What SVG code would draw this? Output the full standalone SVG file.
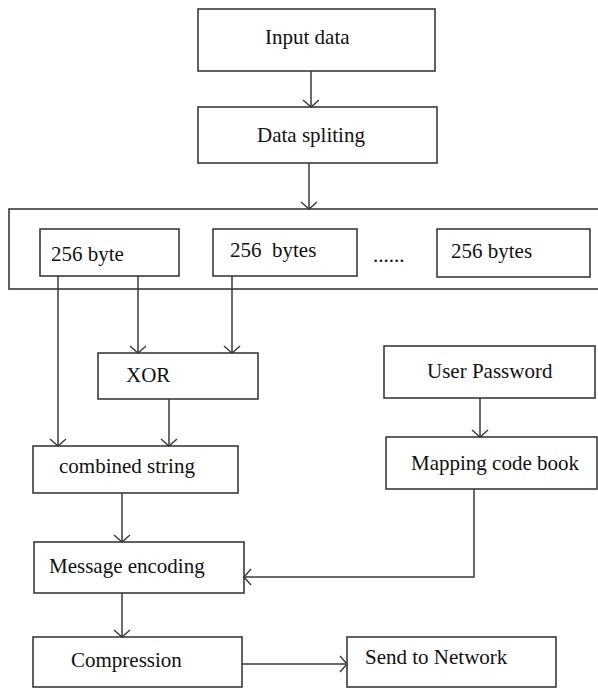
<svg xmlns="http://www.w3.org/2000/svg" width="598" height="688" viewBox="0 0 598 688">
<style>
.box{fill:#fff;stroke:#3a3a3a;stroke-width:1.6}
.lbl{font-family:"Liberation Serif","Times New Roman",serif;font-size:21px;fill:#111}
.con{fill:none;stroke:#3a3a3a;stroke-width:1.5}
</style>
<defs>
<marker id="ah" markerUnits="userSpaceOnUse" markerWidth="20" markerHeight="20" viewBox="-10 -10 20 20" refX="0" refY="0" orient="auto">
<path d="M-7,-8 L0,0 L-7,8" fill="none" stroke="#3a3a3a" stroke-width="1.4"/>
</marker>
</defs>
<rect width="598" height="688" fill="#fff"/>
<g id="node-input"><rect class="box" x="198" y="9" width="237" height="62"/><text class="lbl" x="265" y="44">Input data</text></g>
<g id="node-split"><rect class="box" x="198" y="107" width="239" height="56"/><text class="lbl" x="257" y="142">Data spliting</text></g>
<g id="node-blocks"><rect class="box" x="9" y="209" width="600" height="80"/>
<text class="lbl" x="373" y="262">......</text></g>
<g id="node-b1"><rect class="box" x="40" y="229" width="139" height="47"/><text class="lbl" x="51" y="261">256 byte</text></g>
<g id="node-b2"><rect class="box" x="213" y="229" width="144" height="47"/><text class="lbl" x="230" y="257" xml:space="preserve">256  bytes</text></g>
<g id="node-b3"><rect class="box" x="437" y="229" width="153" height="48"/><text class="lbl" x="451" y="258">256 bytes</text></g>
<g id="node-xor"><rect class="box" x="98" y="353" width="160" height="46"/><text class="lbl" x="126" y="382">XOR</text></g>
<g id="node-combined"><rect class="box" x="33" y="446" width="205" height="47"/><text class="lbl" x="59" y="473">combined string</text></g>
<g id="node-user"><rect class="box" x="384" y="346" width="211" height="52"/><text class="lbl" x="427" y="378">User Password</text></g>
<g id="node-mapping"><rect class="box" x="386" y="437" width="211" height="52"/><text class="lbl" x="411" y="470">Mapping code book</text></g>
<g id="node-message"><rect class="box" x="34" y="542" width="210" height="51"/><text class="lbl" x="49" y="573">Message encoding</text></g>
<g id="node-compression"><rect class="box" x="33" y="637" width="209" height="50"/><text class="lbl" x="71" y="667">Compression</text></g>
<g id="node-send"><rect class="box" x="347" y="637" width="209" height="50"/><text class="lbl" x="365" y="664">Send to Network</text></g>
<g id="connectors">
<path class="con" d="M311,71 V107" marker-end="url(#ah)"/>
<path class="con" d="M309,163 V209" marker-end="url(#ah)"/>
<path class="con" d="M58,276 V446" marker-end="url(#ah)"/>
<path class="con" d="M138,276 V353" marker-end="url(#ah)"/>
<path class="con" d="M232,276 V353" marker-end="url(#ah)"/>
<path class="con" d="M169,399 V446" marker-end="url(#ah)"/>
<path class="con" d="M122,493 V542" marker-end="url(#ah)"/>
<path class="con" d="M480,398 V437" marker-end="url(#ah)"/>
<path class="con" d="M474,489 V577 H244" marker-end="url(#ah)"/>
<path class="con" d="M122,593 V637" marker-end="url(#ah)"/>
<path class="con" d="M242,664 H347" marker-end="url(#ah)"/>
</g>
</svg>
